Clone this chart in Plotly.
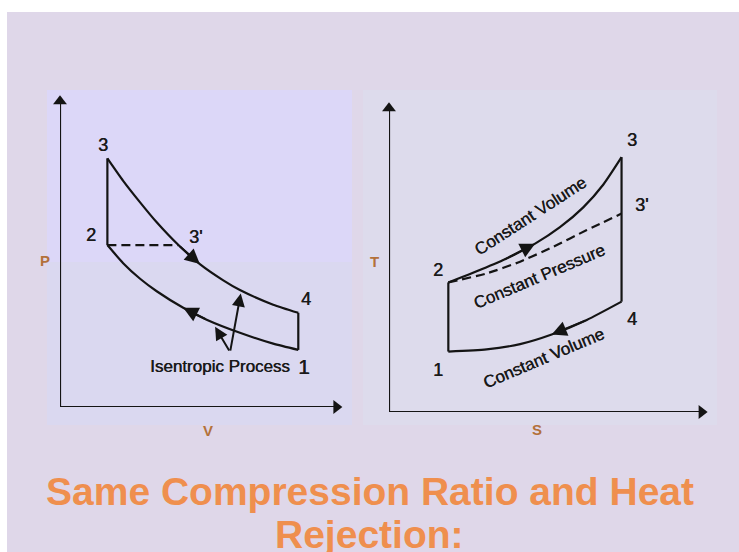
import plotly.graph_objects as go

W, H = 739, 552

# ---------------- P-V diagram (axis frame spans 0..10 in both directions) ----------------
pv_state_names = ["1", "2", "3", "3'", "4"]
pv_state_v = [8.45, 1.68, 1.68, 4.20, 8.45]
pv_state_p = [1.83, 5.19, 7.97, 5.19, 3.02]

# isentropic expansion 3 -> 4
pv_expansion_v = [1.68, 2.24, 2.84, 3.43, 4.20, 4.96, 5.79, 6.38, 7.56, 8.45]
pv_expansion_p = [7.97, 7.25, 6.56, 5.92, 5.19, 4.58, 4.06, 3.75, 3.28, 3.02]
# isentropic compression 1 -> 2
pv_compression_v = [8.45, 7.56, 6.38, 5.20, 4.37, 3.43, 2.84, 2.24, 1.68]
pv_compression_p = [1.83, 2.03, 2.38, 2.80, 3.18, 3.71, 4.11, 4.61, 5.19]

# ---------------- T-S diagram ----------------
ts_state_names = ["1", "2", "3", "3'", "4"]
ts_state_s = [1.86, 1.86, 7.29, 7.29, 7.29]
ts_state_t = [1.95, 4.18, 8.22, 6.40, 3.56]

# constant volume heat addition 2 -> 3
ts_heat_v_s = [1.86, 2.54, 3.58, 4.58, 5.36, 6.09, 6.72, 7.29]
ts_heat_v_t = [4.18, 4.45, 4.90, 5.43, 5.96, 6.60, 7.34, 8.22]
# constant pressure heat addition 2 -> 3'
ts_heat_p_s = [1.86, 3.06, 4.11, 5.15, 6.20, 7.29]
ts_heat_p_t = [4.18, 4.47, 4.85, 5.33, 5.87, 6.40]
# constant volume heat rejection 4 -> 1
ts_reject_s = [7.29, 6.20, 5.10, 4.11, 3.06, 1.86]
ts_reject_t = [3.56, 2.97, 2.50, 2.19, 2.02, 1.95]

axis_extent = 9.8

# ---------------- styling ----------------
LINE = "#141414"
TEXT = "#1a1a1a"
AXLAB = "#B3713A"
TITLE = "#EF8F4E"
FONT = "Liberation Sans"
THICK = "0.45px 0 0 #1a1a1a"

fig = go.Figure()
ann = []


def st(names, xs, ys, name):
    i = names.index(name)
    return xs[i], ys[i]


def path(xs, ys, xa, ya, dash=None, spline=True, width=2.2):
    fig.add_trace(go.Scatter(
        x=xs, y=ys, mode="lines", xaxis=xa, yaxis=ya, cliponaxis=False,
        line=dict(color=LINE, width=width, dash=dash,
                  shape="spline" if spline else "linear", smoothing=0.6),
        hoverinfo="skip", showlegend=False))


def head(xs, ys, i, xa, ya):
    # direction arrowhead on a process curve, pointing from point i-1 to point i
    ann.append(dict(x=xs[i], y=ys[i], ax=xs[i - 1], ay=ys[i - 1], xref=xa, yref=ya,
                    axref=xa, ayref=ya, text="", showarrow=True, arrowhead=2,
                    arrowsize=1.5, arrowwidth=2, arrowcolor=LINE))


def frame(xa, ya):
    path([0, 0, axis_extent], [axis_extent, 0, 0], xa, ya, spline=False, width=2.2)
    fig.add_trace(go.Scatter(
        x=[0, axis_extent], y=[axis_extent, 0], mode="markers", xaxis=xa, yaxis=ya,
        cliponaxis=False,
        marker=dict(symbol=["triangle-up", "triangle-right"], size=12, color=LINE),
        hoverinfo="skip", showlegend=False))


# ----- P-V -----
frame("x", "y")
v1, p1 = st(pv_state_names, pv_state_v, pv_state_p, "1")
v2, p2 = st(pv_state_names, pv_state_v, pv_state_p, "2")
v3, p3 = st(pv_state_names, pv_state_v, pv_state_p, "3")
v3b, p3b = st(pv_state_names, pv_state_v, pv_state_p, "3'")
v4, p4 = st(pv_state_names, pv_state_v, pv_state_p, "4")
path([v2, v3], [p2, p3], "x", "y", spline=False)
path(pv_expansion_v, pv_expansion_p, "x", "y")
path([v4, v1], [p4, p1], "x", "y", spline=False)
path(pv_compression_v, pv_compression_p, "x", "y")
path([v2, v3b], [p2, p3b], "x", "y", dash="9px,5px", spline=False)
head(pv_expansion_v, pv_expansion_p, 5, "x", "y")
head(pv_compression_v, pv_compression_p, 4, "x", "y")

# ----- T-S -----
frame("x2", "y2")
s1, t1 = st(ts_state_names, ts_state_s, ts_state_t, "1")
s2, t2 = st(ts_state_names, ts_state_s, ts_state_t, "2")
s3, t3 = st(ts_state_names, ts_state_s, ts_state_t, "3")
s4, t4 = st(ts_state_names, ts_state_s, ts_state_t, "4")
path([s1, s2], [t1, t2], "x2", "y2", spline=False)
path(ts_heat_v_s, ts_heat_v_t, "x2", "y2")
path(ts_heat_p_s, ts_heat_p_t, "x2", "y2", dash="9px,5px")
path([s3, s4], [t3, t4], "x2", "y2", spline=False)
path(ts_reject_s, ts_reject_t, "x2", "y2")
head(ts_heat_v_s, ts_heat_v_t, 3, "x2", "y2")
head(ts_reject_s, ts_reject_t, 2, "x2", "y2")


def label(text, x, y, xa, ya, dx=0, dy=0, size=18, color=TEXT, bold=False, angle=0,
          shadow=THICK):
    ann.append(dict(text=text, x=x, y=y, xref=xa, yref=ya, xshift=dx, yshift=dy,
                    showarrow=False, textangle=angle,
                    font=dict(family=FONT, size=size, color=color, shadow=shadow,
                              weight="bold" if bold else "normal")))


# state labels (pixel offsets from the state points)
pv_offsets = {"1": (6, -17), "2": (-16, 10), "3": (-4, 13), "3'": (17, 8), "4": (8, 14)}
for n, v, p in zip(pv_state_names, pv_state_v, pv_state_p):
    dx, dy = pv_offsets[n]
    label(n, v, p, "x", "y", dx, dy, size=21 if n == "1" else 18)
ts_offsets = {"1": (-10, -18), "2": (-10, 12), "3": (10, 17), "3'": (20, 9), "4": (10, -17)}
for n, s, t in zip(ts_state_names, ts_state_s, ts_state_t):
    dx, dy = ts_offsets[n]
    label(n, s, t, "x2", "y2", dx, dy)

# axis titles
for txt, x, y, xa, ya, dx, dy in [("P", 0, 4.71, "x", "y", -15, 0),
                                  ("V", 5.25, 0, "x", "y", 0, -23),
                                  ("T", 0, 4.85, "x2", "y2", -15, 0),
                                  ("S", 4.63, 0, "x2", "y2", 0, -18)]:
    label(txt, x, y, xa, ya, dx, dy, size=15, color=AXLAB, bold=True, shadow="none")

# process notes
label("Isentropic Process", 5.67, 1.29, "x", "y", size=17)
label("Constant Volume", 4.42, 6.30, "x2", "y2", size=17, angle=-33)
label("Constant Pressure", 4.73, 4.36, "x2", "y2", size=17, angle=-23)
label("Constant Volume", 4.84, 1.73, "x2", "y2", size=17, angle=-23)

# pointer arrows to the isentropic curves
for hx, hy in [(6.41, 3.64), (5.50, 2.57)]:
    ann.append(dict(x=hx, y=hy, ax=6.03, ay=1.76, xref="x", yref="y", axref="x", ayref="y",
                    text="", showarrow=True, arrowhead=2, arrowsize=1.3, arrowwidth=2,
                    arrowcolor=LINE))

# slide title (second line runs off the bottom edge, as in the original slide)
ann.append(dict(text="Same Compression Ratio and Heat", x=0.5, y=1 - 515 / H,
                xref="paper", yref="paper", showarrow=False,
                font=dict(family=FONT, size=39, color=TITLE, weight="bold")))
ann.append(dict(text="Rejection:", x=0.5, y=1 - 558 / H,
                xref="paper", yref="paper", showarrow=False,
                font=dict(family=FONT, size=39, color=TITLE, weight="bold")))


def prect(x0, y0, x1, y1, color):
    return dict(type="rect", xref="paper", yref="paper", layer="below", line=dict(width=0),
                x0=x0 / W, x1=x1 / W, y0=1 - y1 / H, y1=1 - y0 / H, fillcolor=color)


shapes = [
    prect(0, 0, W, 12, "#FFFFFF"),
    prect(0, 0, 7, H, "#FFFFFF"),
    prect(47, 90, 352, 425, "#DCD7F8"),
    prect(47, 262, 352, 425, "#DAD8F0"),
    prect(363, 90, 717, 425, "#DDDBEC"),
]

fig.update_layout(
    width=W, height=H, margin=dict(l=0, r=0, t=0, b=0, pad=0),
    paper_bgcolor="#DFD7E9", plot_bgcolor="rgba(0,0,0,0)",
    showlegend=False, annotations=ann, shapes=shapes,
    xaxis=dict(domain=[60 / W, 342 / W], range=[0, 10], visible=False, anchor="y"),
    yaxis=dict(domain=[1 - 407 / H, 1 - 95 / H], range=[0, 10], visible=False, anchor="x"),
    xaxis2=dict(domain=[389 / W, 708 / W], range=[0, 10], visible=False, anchor="y2"),
    yaxis2=dict(domain=[1 - 412 / H, 1 - 102 / H], range=[0, 10], visible=False, anchor="x2"),
)

fig.write_html("out.html", config={"displayModeBar": False},
               post_script="document.body.style.margin='0';document.body.style.overflow='hidden';")
